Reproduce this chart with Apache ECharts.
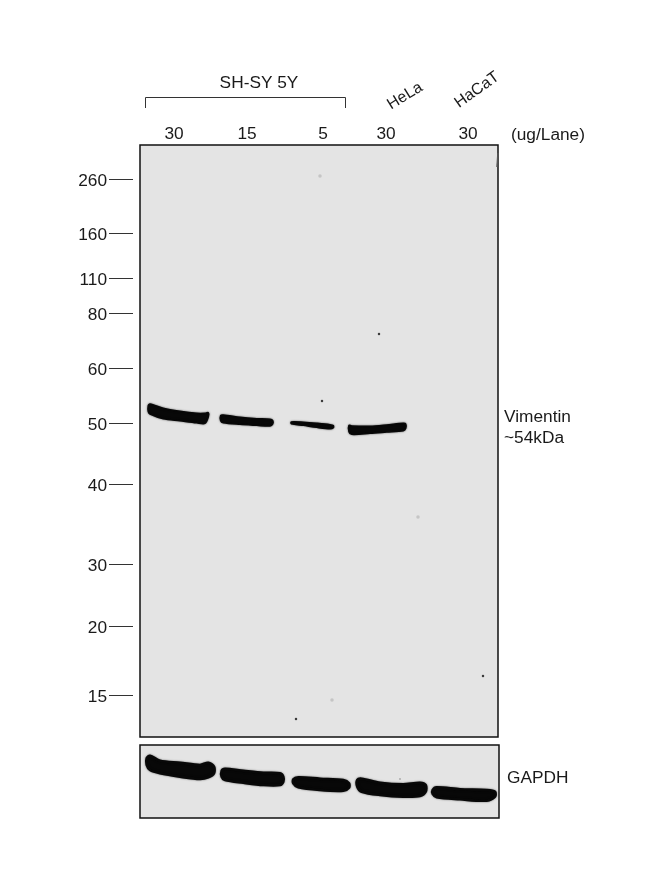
<!DOCTYPE html>
<html>
<head>
<meta charset="utf-8">
<style>html,body{margin:0;padding:0;background:#fff}#c{width:650px;height:889px}</style>
<script src="https://cdn.jsdelivr.net/npm/echarts@6/dist/echarts.min.js"></script>
</head>
<body>
<div id="c"></div>
<script>
// Molecular weight markers: label and migration distance on the membrane
const markerLabels = ['260','160','110','80','60','50','40','30','20','15'];
const markerMigration = [34,88,133,168,223,278,339,419,481,550];
// Lanes: loading label and lane position
const laneLabels = ['30','15','5','30','30'];
const lanePositions = [34,107,183,246,328];
// Bands: samples of [lane position, upper edge, lower edge]
const vimentinBands = [
  [[8.3,260.7,266.7],[10,259,269],[23.3,263.3,273.7],[40,266.3,275.7],[56.7,268.3,277.7],[65,268.3,278.3],[68.3,267.7,271.7]],
  [[80.7,270.7,275.7],[83.3,270,277.7],[100,272.3,279.3],[116.7,273.7,280.3],[130,274.3,281],[132.7,275.7,279]],
  [[151.3,277,278.7],[163.3,277.3,280.3],[176.7,278.3,282.3],[190,279.7,283.7],[193.3,280.7,282.7]],
  [[209,280.3,286.7],[211.7,281,289.3],[230,281.3,288.3],[246.7,280,287],[263.3,278.3,285.7],[265.7,279,283.3]]
];
const gapdhBands = [
  [[6.7,13.3,20],[10,10.7,25],[20,15.7,28.3],[40,17.7,31.7],[60,20,34],[68.3,17.7,32.3],[74,21.7,28.3]],
  [[81.7,25.7,31.7],[85,23.7,35],[103.3,25.7,37.7],[123.3,27.7,40],[140,28.3,40],[143.3,31.7,36.7]],
  [[153.3,34.3,38.3],[158.3,32.3,42.3],[180,33.7,45],[203.3,35,45.7],[209,38.3,42.7]],
  [[217.3,35,41.7],[221.7,33.7,46.7],[240,37.7,50],[263.3,39.3,51.7],[280,37.7,51],[285.7,40,46.7]],
  [[292.7,45,49],[296.7,42.3,52.3],[320,44.3,54.3],[346.7,45,55.7],[355,46.7,51.7]]
];
// Specks on the membrane: [x, y]
const darkSpecks = [[239,189],[182,256],[156,574],[343,531]];
const faintSpecks = [[180,31],[278,372],[192,555]];
const gapdhSpecks = [[260,34]];

const FONT = '"Liberation Sans", Arial, sans-serif';
const FS = 17.3;
const TXT = '#1a1a1a';
const MEMBRANE_W = 358, MEMBRANE_H = 592, GAPDH_H = 73;

function bandItem(bands, lw) {
  return function (params, api) {
    const b = bands[params.dataIndex];
    const top = b.map(s => api.coord([s[0], s[1]]));
    const bot = b.slice().reverse().map(s => api.coord([s[0], s[2]]));
    return {
      type: 'polygon',
      shape: { points: top.concat(bot), smooth: 0.3 },
      style: { fill: '#080808', stroke: '#080808', lineWidth: lw, lineJoin: 'round', shadowBlur: 2, shadowColor: 'rgba(0,0,0,0.5)' }
    };
  };
}
function markerTick(params, api) {
  const p = api.coord([0, api.value(0)]);
  const y = Math.round(p[1]) + 0.5;
  return {
    type: 'line',
    shape: { x1: p[0] - 31, y1: y, x2: p[0] - 7, y2: y },
    style: { stroke: '#333', lineWidth: 1 }
  };
}
const text = (t, x, y, extra) => Object.assign({
  type: 'text', x, y, style: Object.assign({ text: t, font: FS + 'px ' + FONT, fill: TXT, align: 'left', verticalAlign: 'middle' }, extra || {})
});

const chart = echarts.init(document.getElementById('c'), null, { renderer: 'canvas' });
chart.setOption({
  animation: false,
  backgroundColor: '#fff',
  grid: [
    { left: 140, top: 145, width: MEMBRANE_W, height: MEMBRANE_H, show: true, backgroundColor: '#e4e4e4', borderColor: '#111', borderWidth: 1.5 },
    { left: 140, top: 745, width: MEMBRANE_W + 1, height: GAPDH_H, show: true, backgroundColor: '#e4e4e4', borderColor: '#111', borderWidth: 1.5 }
  ],
  xAxis: [
    { gridIndex: 0, type: 'value', position: 'top', min: 0, max: MEMBRANE_W, splitLine: { show: false },
      axisLine: { show: false }, axisTick: { show: false },
      axisLabel: { customValues: lanePositions, margin: 2, color: TXT, fontFamily: FONT, fontSize: FS,
        formatter: v => laneLabels[lanePositions.indexOf(v)] } },
    { gridIndex: 1, type: 'value', min: 0, max: MEMBRANE_W + 1, show: false }
  ],
  yAxis: [
    { gridIndex: 0, type: 'value', inverse: true, min: 0, max: MEMBRANE_H, offset: 7, splitLine: { show: false },
      axisLine: { show: false },
      axisTick: { show: false },
      axisLabel: { customValues: markerMigration, margin: 26, color: TXT, fontFamily: FONT, fontSize: FS, verticalAlign: 'top', lineHeight: 5,
        formatter: v => markerLabels[markerMigration.indexOf(v)] } },
    { gridIndex: 1, type: 'value', inverse: true, min: 0, max: GAPDH_H, show: false }
  ],
  series: [
    { type: 'custom', xAxisIndex: 0, yAxisIndex: 0, data: markerMigration.map(m => [m]), encode: { y: 0 }, renderItem: markerTick, clip: false, silent: true },
    { type: 'custom', xAxisIndex: 0, yAxisIndex: 0, data: vimentinBands.map((b, i) => [b[0][0], b[0][1], i]), renderItem: bandItem(vimentinBands, 1.6), silent: true },
    { type: 'custom', xAxisIndex: 1, yAxisIndex: 1, data: gapdhBands.map((b, i) => [b[0][0], b[0][1], i]), renderItem: bandItem(gapdhBands, 2.6), silent: true },
    { type: 'scatter', xAxisIndex: 0, yAxisIndex: 0, data: darkSpecks, symbolSize: 2.5, itemStyle: { color: '#111' }, silent: true },
    { type: 'scatter', xAxisIndex: 0, yAxisIndex: 0, data: faintSpecks, symbolSize: 3.5, itemStyle: { color: '#bdbdbd' }, silent: true },
    { type: 'scatter', xAxisIndex: 1, yAxisIndex: 1, data: gapdhSpecks, symbolSize: 1.5, itemStyle: { color: '#666' }, silent: true }
  ],
  graphic: [
    text('SH-SY 5Y', 259, 83, { align: 'center' }),
    text('(ug/Lane)', 511, 135),
    text('Vimentin', 504, 417),
    text('~54kDa', 504, 438),
    text('GAPDH', 507, 778),
    { type: 'text', x: 405, y: 96, rotation: 0.55, style: { text: 'HeLa', font: '16px ' + FONT, fill: TXT, align: 'center', verticalAlign: 'middle' } },
    { type: 'text', x: 477, y: 90, rotation: 0.62, style: { text: 'HaCaT', font: '16px ' + FONT, fill: TXT, align: 'center', verticalAlign: 'middle' } },
    { type: 'polyline', shape: { points: [[145.5, 108], [145.5, 97.5], [345.5, 97.5], [345.5, 108]] }, style: { stroke: '#333', lineWidth: 1, fill: null } },
    { type: 'line', shape: { x1: 498, y1: 153, x2: 497, y2: 167 }, style: { stroke: '#555', lineWidth: 1.5 } }
  ]
});
</script>
</body>
</html>
